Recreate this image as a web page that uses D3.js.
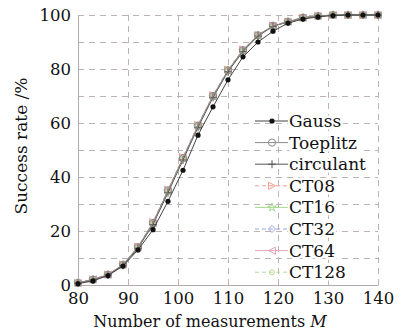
<!DOCTYPE html>
<html>
<head>
<meta charset="utf-8">
<script src="https://cdn.jsdelivr.net/npm/d3@7"></script>
<style>
  body { margin: 0; background: #fff; }
  text { font-family: "DejaVu Serif", "Liberation Serif", "DejaVu Sans", serif; fill: #111; }
</style>
</head>
<body>
<script>
var measurements = [80,83,86,89,92,95,98,101,104,107,110,113,116,119,122,125,128,131,134,137,140];

var gauss     = [0.5,1.5,3.5,7.0,13.0,20.5,31.0,42.5,55.5,66.0,76.0,84.5,90.0,94.0,97.0,98.5,99.3,99.8,100,100,100];
var toeplitz  = [0.8,2.0,3.8,7.5,14.0,23.0,35.0,47.0,59.0,70.0,79.5,87.0,92.5,96.0,97.5,99.0,99.6,100,100,100,100];
var circulant = [0.7,1.9,3.7,7.3,13.6,22.4,34.2,46.3,58.4,69.5,79.0,86.5,92.2,95.8,97.4,98.9,99.6,100,100,100,100];
var ct08      = [0.8,2.1,3.9,7.6,14.2,23.3,35.3,47.4,59.3,70.3,79.8,87.2,92.6,96.1,97.6,99.0,99.7,100,100,100,100];
var ct16      = [0.7,2.0,3.8,7.4,13.9,22.8,34.7,46.8,58.8,69.8,79.3,86.8,92.4,95.9,97.5,99.0,99.6,100,100,100,100];
var ct32      = [0.8,2.0,3.9,7.5,14.1,23.1,35.1,47.2,59.2,70.2,79.6,87.1,92.5,96.0,97.6,99.1,99.7,100,100,100,100];
var ct64      = [0.7,2.1,3.8,7.6,14.0,22.9,34.9,46.9,59.0,70.0,79.4,86.9,92.4,96.0,97.5,99.0,99.6,100,100,100,100];
var ct128     = [0.8,1.9,3.7,7.4,13.8,22.7,34.6,46.6,58.7,69.7,79.2,86.7,92.3,95.9,97.4,98.9,99.6,100,100,100,100];

var xTicks = [80,90,100,110,120,130,140];
var yTicks = [0,20,40,60,80,100];

var series = [
  {name: "CT128",     values: ct128,     color: "#b9da9c", dash: "4,3", marker: "hex"},
  {name: "CT64",      values: ct64,      color: "#e3a3b8", dash: null,  marker: "left"},
  {name: "CT32",      values: ct32,      color: "#98a4e2", dash: "4,3", marker: "diamond"},
  {name: "CT16",      values: ct16,      color: "#a6d890", dash: null,  marker: "star"},
  {name: "CT08",      values: ct08,      color: "#f2a090", dash: "4,3", marker: "right"},
  {name: "circulant", values: circulant, color: "#555555", dash: null,  marker: "plus"},
  {name: "Toeplitz",  values: toeplitz,  color: "#8a8a8a", dash: null,  marker: "circle"},
  {name: "Gauss",     values: gauss,     color: "#444444", dash: null,  marker: "dot"}
];
var legendOrder = ["Gauss","Toeplitz","circulant","CT08","CT16","CT32","CT64","CT128"];

var svg = d3.select("body")
    .append("svg")
    .attr("width", 401)
    .attr("height", 332)
    .style("display", "block");
var margin = {top: 15, right: 23, bottom: 47, left: 78};
var width = 401 - margin.left - margin.right;
var height = 332 - margin.top - margin.bottom;
var g = svg.append("g").attr("transform", "translate(" + margin.left + "," + margin.top + ")");

var x = d3.scaleLinear().domain([80, 140]).range([0, width]);
var y = d3.scaleLinear().domain([0, 100]).range([height, 0]);

// dashed grid
g.append("g")
    .call(d3.axisLeft(y).tickValues(d3.range(0, 101, 10)).tickSize(-width).tickFormat(""))
    .call(function(s) {
        s.select(".domain").remove();
        s.selectAll("line").attr("stroke", "#bdb3b3").attr("stroke-dasharray", "6,5");
    });
g.append("g")
    .call(d3.axisBottom(x).tickValues(xTicks).tickSize(height).tickFormat(""))
    .call(function(s) {
        s.select(".domain").remove();
        s.selectAll("line").attr("stroke", "#bdb3b3").attr("stroke-dasharray", "6,5");
    });

// axes
g.append("g")
    .attr("transform", "translate(0," + height + ")")
    .call(d3.axisBottom(x).tickValues(xTicks).tickSizeInner(0).tickSizeOuter(0).tickPadding(7))
    .call(function(s) {
        s.select(".domain").attr("stroke", "#b5a9a9");
        s.selectAll("text").style("font-size", "16.5px").attr("fill", "#111");
    });
g.append("g")
    .call(d3.axisLeft(y).tickValues(yTicks).tickSizeInner(0).tickSizeOuter(0).tickPadding(7))
    .call(function(s) {
        s.select(".domain").attr("stroke", "#b5a9a9");
        s.selectAll("text").style("font-size", "16.5px").attr("fill", "#111");
    });
g.selectAll(".tick text").attr("font-family", null);

function markerPath(type, cx, cy) {
    var r = 3.5;
    if (type == "right") return "M" + (cx - r) + "," + (cy - r) + "L" + (cx + r) + "," + cy + "L" + (cx - r) + "," + (cy + r) + "Z";
    if (type == "left") return "M" + (cx + r) + "," + (cy - r) + "L" + (cx - r) + "," + cy + "L" + (cx + r) + "," + (cy + r) + "Z";
    if (type == "diamond") return "M" + cx + "," + (cy - r) + "L" + (cx + r) + "," + cy + "L" + cx + "," + (cy + r) + "L" + (cx - r) + "," + cy + "Z";
    if (type == "plus") return "M" + (cx - 4) + "," + cy + "H" + (cx + 4) + "M" + cx + "," + (cy - 4) + "V" + (cy + 4);
    if (type == "star") return d3.symbol(d3.symbolStar, 22)();
    if (type == "hex") return d3.symbol(d3.symbolCircle, 20)();
    return null;
}

function drawMarker(sel, s, cx, cy) {
    if (s.marker == "dot") {
        sel.append("circle").attr("cx", cx).attr("cy", cy).attr("r", 2.6).attr("fill", "#111");
    } else if (s.marker == "circle") {
        sel.append("circle").attr("cx", cx).attr("cy", cy).attr("r", 3.6)
            .attr("fill", "none").attr("stroke", s.color).attr("stroke-width", 1);
    } else if (s.marker == "star" || s.marker == "hex") {
        sel.append("path").attr("d", markerPath(s.marker))
            .attr("transform", "translate(" + cx + "," + cy + ")")
            .attr("fill", "none").attr("stroke", s.color).attr("stroke-width", 1);
    } else {
        sel.append("path").attr("d", markerPath(s.marker, cx, cy))
            .attr("fill", "none").attr("stroke", s.color).attr("stroke-width", 1);
    }
}

var line = d3.line()
    .x(function(d, i) { return x(measurements[i]); })
    .y(function(d) { return y(d); });

series.forEach(function(s) {
    g.append("path")
        .datum(s.values)
        .attr("d", line)
        .attr("fill", "none")
        .attr("stroke", s.color)
        .attr("stroke-width", 1)
        .attr("stroke-dasharray", s.dash);
    var m = g.append("g");
    s.values.forEach(function(v, i) {
        drawMarker(m, s, x(measurements[i]), y(v));
    });
});

// legend
var legend = svg.append("g").attr("transform", "translate(255,121)");
legendOrder.forEach(function(name, i) {
    var s = series.find(function(d) { return d.name == name; });
    var row = legend.append("g").attr("transform", "translate(0," + (i * 21.6) + ")");
    row.append("text")
        .attr("x", 34).attr("y", 6)
        .style("font-size", "17px")
        .style("stroke", "#fff").style("stroke-width", 5).style("paint-order", "stroke")
        .text(name);
    row.append("line")
        .attr("x1", 0).attr("x2", 33).attr("y1", 0).attr("y2", 0)
        .attr("stroke", s.color).attr("stroke-width", 1)
        .attr("stroke-dasharray", s.dash);
    drawMarker(row, s, 17, 0);
});

// axis titles
svg.append("text")
    .attr("transform", "translate(27,146) rotate(-90)")
    .attr("text-anchor", "middle")
    .style("font-size", "17px")
    .text("Success rate /%");

var xt = svg.append("text")
    .attr("x", 210).attr("y", 327)
    .attr("text-anchor", "middle")
    .style("font-size", "16px")
    .text("Number of measurements ");
xt.append("tspan").style("font-style", "italic").text("M");
</script>
</body>
</html>
